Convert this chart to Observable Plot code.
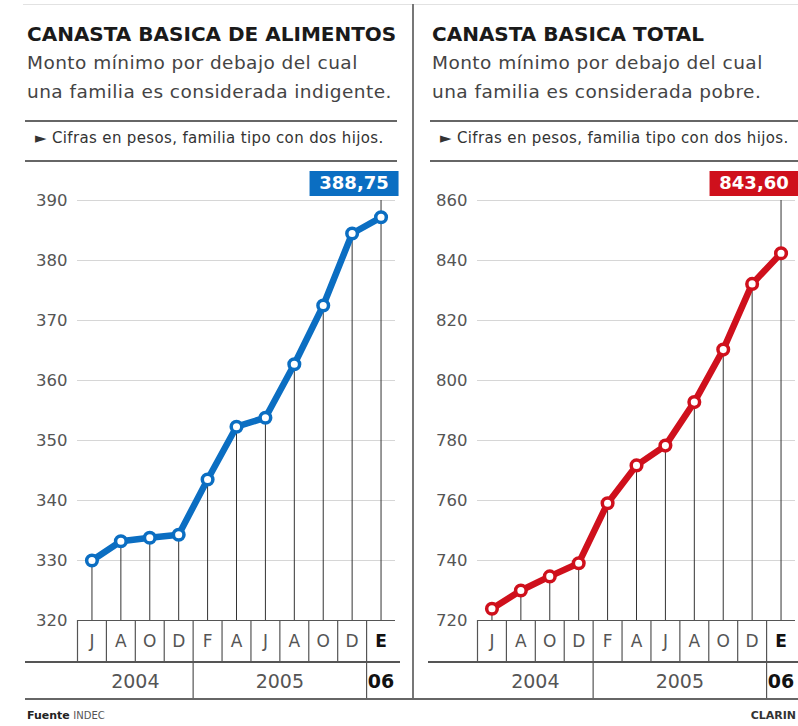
<!DOCTYPE html>
<html><head><meta charset="utf-8">
<script src="https://cdn.jsdelivr.net/npm/d3@7"></script>
<script src="https://cdn.jsdelivr.net/npm/@observablehq/plot@0.6"></script>
<style>
body{margin:0;background:#fff;font-family:"DejaVu Sans",sans-serif;}
#root{position:relative;width:798px;height:726px;overflow:hidden;background:#fff;}
.abs{position:absolute;white-space:nowrap;}
.title{font-weight:bold;font-size:20px;line-height:20px;color:#1a1a1a;}
.sub{font-size:18.5px;line-height:29px;color:#444;letter-spacing:0.45px;}
.note{font-size:15px;line-height:15px;color:#333;letter-spacing:0.35px;}
.line{position:absolute;background:#666;}
svg.plot{background:transparent !important;}
</style></head>
<body><div id="root"></div>
<script>
// ---- data ----
const months = ["J","A","O","D","F","A","J","A","O","D","E"];
const years = ["2004","2004","2004","2004","2005","2005","2005","2005","2005","2005","06"];
const alimentos = [330.0, 333.2, 333.8, 334.3, 343.5, 352.3, 353.8, 362.7, 372.5, 384.5, 387.2];
const total = [723.9, 730.0, 734.7, 739.1, 759.1, 771.7, 778.3, 792.8, 810.3, 832.2, 842.4];
const alimentosTicks = [320, 330, 340, 350, 360, 370, 380, 390];
const totalTicks = [720, 740, 760, 780, 800, 820, 840, 860];
const lastLabels = ["388,75", "843,60"];
const titles = ["CANASTA BASICA DE ALIMENTOS", "CANASTA BASICA TOTAL"];
const subtitles = [["Monto mínimo por debajo del cual", "una familia es considerada indigente."],
                   ["Monto mínimo por debajo del cual", "una familia es considerada pobre."]];
const note = "► Cifras en pesos, familia tipo con dos hijos.";
const colors = ["#0b6ec2", "#cf101c"];

const root = document.getElementById("root");

function chart(values, ticks, color, label) {
  const data = values.map((v, i) => ({i, v, m: months[i], yr: years[i]}));
  const yMin = ticks[0], yMax = ticks[ticks.length - 1];
  const lastI = data.length - 1;
  const bounds = d3.range(months.length).map(i => i - 0.5);
  const groups = d3.groups(data, d => d.yr).map(([yr, arr]) => ({yr, c: d3.mean(arr, d => d.i), start: arr[0].i - 0.5}));
  const seps = groups.slice(1).map(g => g.start);
  const boxSymbol = {draw(ctx) { ctx.rect(-44.5, -12.5, 89, 25); }};
  const last = [data[lastI]];
  return Plot.plot({
    width: 400, height: 540,
    marginTop: 35, marginBottom: 85, marginLeft: 77, marginRight: 5,
    x: {domain: [-0.5, months.length - 0.5], axis: null},
    y: {domain: [yMin, yMax]},
    style: {fontFamily: "DejaVu Sans", fontSize: "16px", color: "#555", background: "transparent", overflow: "visible"},
    marks: [
      Plot.ruleY(ticks.slice(1), {stroke: "#d6d6d6", strokeWidth: 1}),
      Plot.axisY({ticks, tickSize: 0, tickPadding: 10, fontSize: 16.5, label: null, fill: "#555"}),
      Plot.ruleX(data, {x: "i", y1: yMin, y2: d => d.i === lastI ? yMax : d.v, stroke: "#333", strokeWidth: 1}),
      Plot.ruleY([yMin], {stroke: "#555", strokeWidth: 1.2}),
      Plot.ruleX(bounds, {x: d => d, y1: yMin, y2: yMin, insetBottom: -42, stroke: "#555", strokeWidth: 1.2}),
      Plot.ruleX(seps, {x: d => d, y1: yMin, y2: yMin, insetTop: 42, insetBottom: -80, stroke: "#555", strokeWidth: 1.2}),
      Plot.text(data, {filter: d => d.i !== lastI, x: "i", y: yMin, dy: 21, text: "m", fontSize: 17, fill: "#555"}),
      Plot.text(data, {filter: d => d.i === lastI, x: "i", y: yMin, dy: 21, text: "m", fontSize: 17, fill: "#111", fontWeight: "bold"}),
      Plot.text(groups, {filter: (d, k) => k < groups.length - 1, x: "c", y: yMin, dy: 61, text: "yr", fontSize: 19, fill: "#555"}),
      Plot.text(groups, {filter: (d, k) => k === groups.length - 1, x: "c", y: yMin, dy: 61, text: "yr", fontSize: 19, fill: "#111", fontWeight: "bold"}),
      Plot.line(data, {x: "i", y: "v", stroke: color, strokeWidth: 6.5, strokeLinejoin: "round"}),
      Plot.dot(data, {x: "i", y: "v", r: 5.3, fill: "white", stroke: color, strokeWidth: 3.5}),
      Plot.dot(last, {x: "i", y: yMax, dx: -27, dy: -17, symbol: boxSymbol, fill: color}),
      Plot.text(last, {x: "i", y: yMax, dx: -27, dy: -17, text: () => label, fill: "white", fontWeight: "bold", fontSize: 18})
    ]
  });
}

function place(el, left, top) {
  el.style.position = "absolute"; el.style.left = left + "px"; el.style.top = top + "px";
  root.appendChild(el);
}

const series = [alimentos, total];
const tickSets = [alimentosTicks, totalTicks];
[0, 1].forEach(k => {
  const svg = chart(series[k], tickSets[k], colors[k], lastLabels[k]);
  place(svg, k * 400, 165);
});

function div(cls, html, left, top, extra) {
  const d = document.createElement("div");
  d.className = "abs " + cls;
  d.innerHTML = html;
  d.style.left = left + "px"; d.style.top = top + "px";
  if (extra) Object.assign(d.style, extra);
  root.appendChild(d);
  return d;
}
function line(x1, y, x2, h, color) {
  const d = document.createElement("div");
  d.className = "line";
  Object.assign(d.style, {left: x1 + "px", top: y + "px", width: (x2 - x1) + "px", height: h + "px", background: color || "#666"});
  root.appendChild(d);
}
function vline(x, y1, y2, w, color) {
  const d = document.createElement("div");
  d.className = "line";
  Object.assign(d.style, {left: x + "px", top: y1 + "px", width: w + "px", height: (y2 - y1) + "px", background: color || "#666"});
  root.appendChild(d);
}

const hx = [27, 432], hx2 = [397, 798], lx = [25, 430];
[0, 1].forEach(k => {
  div("title", titles[k], hx[k], 24);
  div("sub", subtitles[k].join("<br>"), hx[k], 48);
  line(lx[k], 120, hx2[k], 2, "#666");
  div("note", note, hx[k] + 8, 131);
  line(lx[k], 160, hx2[k], 2, "#666");
});
// frame decorations
line(23, 4, 798, 1, "#e2e2e2");
vline(412, 4, 700, 2, "#777");
line(25, 661, 400, 1.5, "#555");
line(428, 661, 798, 1.5, "#555");
line(25, 698, 798, 1.5, "#666");
// footer
div("", '<b style="color:#222">Fuente</b> <span style="font-size:10px;color:#555">INDEC</span>', 27, 709, {fontSize: "11px"});
div("", '<b>CLARIN</b>', 0, 709, {fontSize: "11px", color: "#333", left: "auto", right: "2px"});
</script>
</body></html>
